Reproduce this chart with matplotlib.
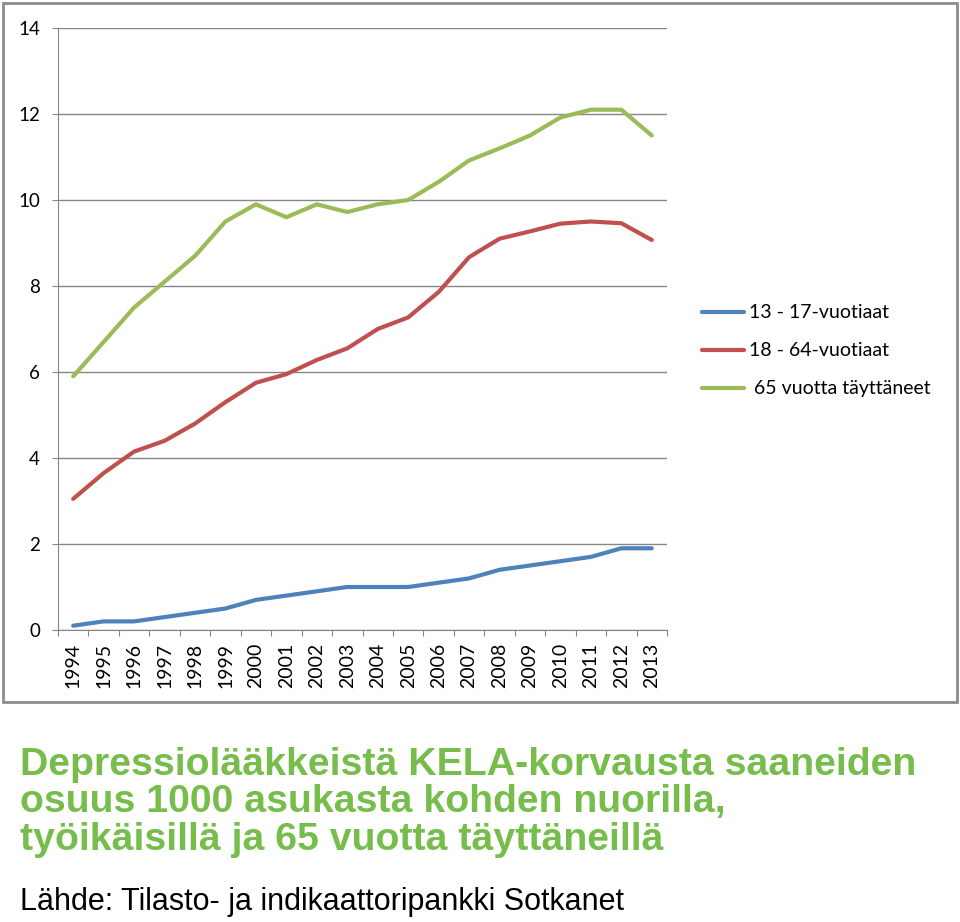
import matplotlib
matplotlib.use("Agg")
import matplotlib.pyplot as plt
from matplotlib.patches import Rectangle

years = list(range(1994, 2014))
nuoret = [0.1, 0.2, 0.2, 0.3, 0.4, 0.5, 0.7, 0.8, 0.9, 1.0,
          1.0, 1.0, 1.1, 1.2, 1.4, 1.5, 1.6, 1.7, 1.9, 1.9]
tyoikaiset = [3.05, 3.65, 4.15, 4.4, 4.8, 5.3, 5.75, 5.95, 6.28, 6.55,
              7.0, 7.27, 7.86, 8.67, 9.1, 9.27, 9.45, 9.5, 9.46, 9.07]
yli65 = [5.9, 6.7, 7.5, 8.1, 8.7, 9.5, 9.9, 9.6, 9.9, 9.72,
         9.9, 10.0, 10.42, 10.92, 11.2, 11.5, 11.92, 12.1, 12.1, 11.5]
labels = ["13 - 17-vuotiaat", "18 - 64-vuotiaat", " 65 vuotta täyttäneet"]
colors = ["#4F81BD", "#C0504D", "#9BBB59"]

W, H = 960, 922
fig = plt.figure(figsize=(W / 100, H / 100), dpi=100)

# harmaa kehys kaavion ympärillä
fig.add_artist(Rectangle((3 / W, 1 - 702 / H), 954 / W, 699 / H, transform=fig.transFigure,
                         fill=False, edgecolor="#8c8c8c", lw=2))

ax = fig.add_axes([58 / W, 1 - 630 / H, 609 / W, 602 / H])
x = list(range(len(years)))
for ser, lab, c in zip([nuoret, tyoikaiset, yli65], labels, colors):
    ax.plot(x, ser, color=c, lw=3.0, label=lab, solid_capstyle="round")

ax.set_ylim(0, 14)
ax.set_xlim(-0.5, len(years) - 0.5)
ax.set_yticks(range(0, 15, 2))
ax.grid(axis="y", color="#868686", lw=1)
ax.set_axisbelow(True)
for s in ["top", "right"]:
    ax.spines[s].set_visible(False)
for s in ["left", "bottom"]:
    ax.spines[s].set_color("#868686")
ax.tick_params(axis="y", length=4.5, color="#868686", labelsize=13.5, pad=8.5)
ax.set_xticks([i - 0.5 for i in range(len(years) + 1)])
ax.set_xticklabels([])
ax.set_xticks(x, minor=True)
ax.set_xticklabels([str(y) for y in years], minor=True, rotation=90, fontsize=14)
ax.tick_params(axis="x", which="major", length=4.5, color="#868686")
ax.tick_params(axis="x", which="minor", length=0, pad=9)
for t in ax.get_yticklabels() + ax.get_xticklabels(minor=True):
    t.set_fontfamily("Lato")

fig.legend(loc="upper left", bbox_to_anchor=(684 / W, 1 - 287 / H), frameon=False,
           prop={"family": "Lato", "size": 14}, handlelength=2.16, handletextpad=0.3,
           labelspacing=1.08)

fig.text(20 / W, 1 - 850 / H,
         "Depressiolääkkeistä KELA-korvausta saaneiden\nosuus 1000 asukasta kohden nuorilla,\ntyöikäisillä ja 65 vuotta täyttäneillä",
         color="#77BD4C", fontsize=28.3, fontweight="bold",
         family=["Liberation Sans Narrow", "Liberation Sans"],
         va="baseline", linespacing=1.06)
fig.text(20 / W, 1 - 910 / H, "Lähde: Tilasto- ja indikaattoripankki Sotkanet",
         color="black", fontsize=22, family=["Liberation Sans Narrow", "Liberation Sans"],
         va="baseline")

fig.savefig("out.png", dpi=100)
